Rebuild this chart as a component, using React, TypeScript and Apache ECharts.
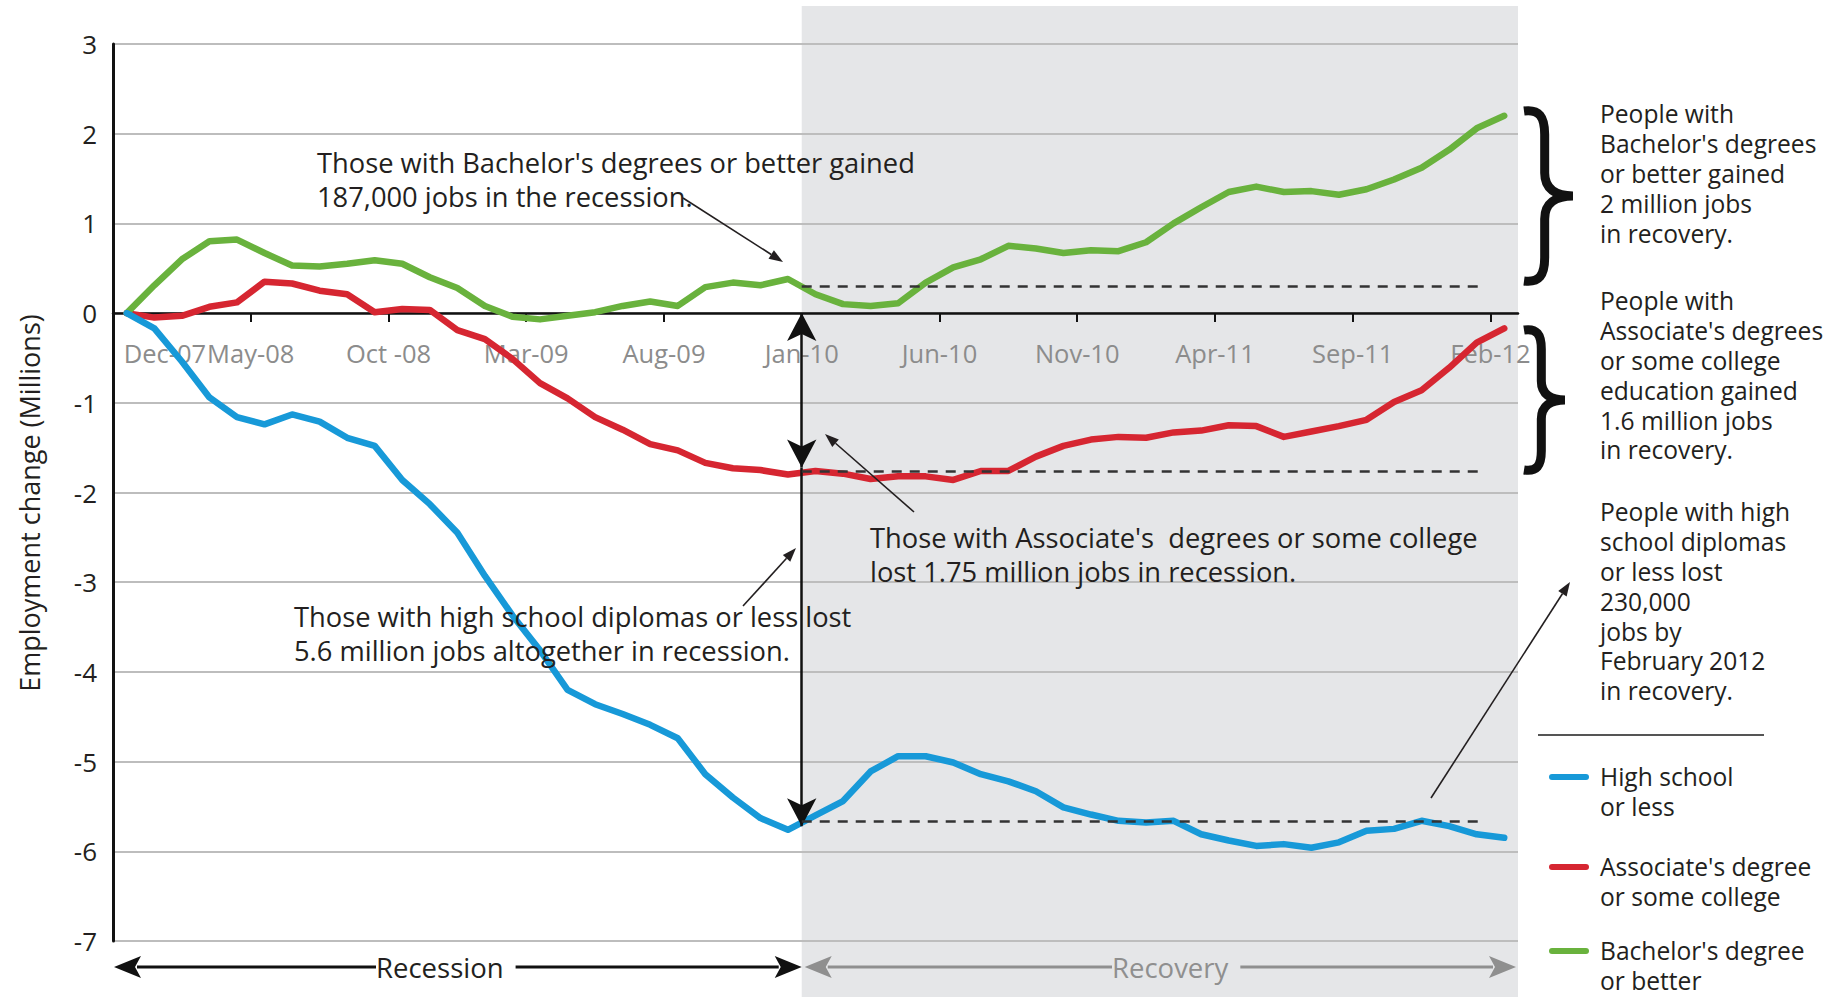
import React, { useEffect, useRef } from "react";
import * as echarts from "echarts";

// ---------- data ----------
const months = [
  "Dec-07", "Jan-08", "Feb-08", "Mar-08", "Apr-08", "May-08", "Jun-08", "Jul-08", "Aug-08", "Sep-08", "Oct -08", "Nov-08", "Dec-08",
  "Jan-09", "Feb-09", "Mar-09", "Apr-09", "May-09", "Jun-09", "Jul-09", "Aug-09", "Sep-09", "Oct-09", "Nov-09", "Dec-09",
  "Jan-10", "Feb-10", "Mar-10", "Apr-10", "May-10", "Jun-10", "Jul-10", "Aug-10", "Sep-10", "Oct-10", "Nov-10", "Dec-10",
  "Jan-11", "Feb-11", "Mar-11", "Apr-11", "May-11", "Jun-11", "Jul-11", "Aug-11", "Sep-11", "Oct-11", "Nov-11", "Dec-11",
  "Jan-12", "Feb-12",
];

const highSchool = [
  0, -0.17, -0.54, -0.94, -1.16, -1.24, -1.13, -1.21, -1.39, -1.48, -1.86, -2.13, -2.45,
  -2.93, -3.37, -3.76, -4.2, -4.36, -4.47, -4.59, -4.74, -5.14, -5.4, -5.63, -5.76,
  -5.6, -5.44, -5.11, -4.94, -4.94, -5.01, -5.14, -5.22, -5.33, -5.51, -5.59, -5.66,
  -5.68, -5.66, -5.81, -5.88, -5.94, -5.92, -5.96, -5.9, -5.77, -5.75, -5.66, -5.72,
  -5.81, -5.85,
];

const associate = [
  0, -0.05, -0.03, 0.07, 0.12, 0.35, 0.33, 0.25, 0.21, 0.01, 0.045, 0.035, -0.19,
  -0.29, -0.51, -0.78, -0.95, -1.16, -1.3, -1.46, -1.53, -1.67, -1.73, -1.75, -1.8,
  -1.76, -1.79, -1.85, -1.82, -1.82, -1.86, -1.76, -1.76, -1.6, -1.48, -1.41, -1.38,
  -1.39, -1.33, -1.31, -1.25, -1.26, -1.38, -1.32, -1.26, -1.19, -0.99, -0.86, -0.61,
  -0.33, -0.17,
];

const bachelor = [
  0, 0.31, 0.6, 0.8, 0.82, 0.67, 0.53, 0.52, 0.55, 0.59, 0.55, 0.4, 0.28,
  0.08, -0.04, -0.07, -0.03, 0.01, 0.08, 0.13, 0.08, 0.29, 0.34, 0.31, 0.38,
  0.21, 0.1, 0.08, 0.11, 0.34, 0.51, 0.6, 0.75, 0.72, 0.67, 0.7, 0.69,
  0.79, 1.0, 1.18, 1.35, 1.41, 1.35, 1.36, 1.32, 1.38, 1.49, 1.62, 1.82,
  2.06, 2.2,
];

const seriesNames = ["High school or less", "Associate's degree or some college", "Bachelor's degree or better"];
const legendLabels = ["High school\nor less", "Associate's degree\nor some college", "Bachelor's degree\nor better"];
const seriesColors = ["#1799d8", "#d62631", "#69b23d"];

// recovery start (Jan-10 boundary) and dashed baselines
const recoveryStart = 25;
const baselineEnd = 49.8;
const baselineLevels = [-5.67, -1.76, 0.3];
// vertical arrow levels at Jan-10
const arrowLevels = [0, -1.72, -5.72];

const xTickValues = [0, 5, 10, 15, 20, 25, 30, 35, 40, 45, 50];
const Y_MIN = -7;
const Y_MAX = 3;

// ---------- layout ----------
const W = 1844;
const H = 997;
const G = { left: 113, right: 326, top: 44, bottom: 56 };
const plotW = W - G.left - G.right;
const plotH = H - G.top - G.bottom;
const X_MAX = 51;
const xPix = (v: number) => G.left + (v / X_MAX) * plotW;
const zeroOffset = -(plotH * (0 - Y_MIN)) / (Y_MAX - Y_MIN);

const FONT = "'Open Sans', Lato, sans-serif";
const INK = "#231f20";
const GRAY_BG = "#e5e6e8";
const ARROW_GRAY = "#8f8f8f";

function pointer(x1: number, y1: number, x2: number, y2: number) {
  const dx = x2 - x1, dy = y2 - y1;
  const L = Math.hypot(dx, dy);
  const ux = dx / L, uy = dy / L;
  const hl = 14, hw = 5;
  const bx = x2 - ux * hl, by = y2 - uy * hl;
  const px = -uy, py = ux;
  return [
    { type: "line", z: 50, shape: { x1, y1, x2: bx, y2: by }, style: { stroke: INK, lineWidth: 1.6 } },
    {
      type: "polygon", z: 50,
      shape: { points: [[x2, y2], [bx + px * hw, by + py * hw], [bx - px * hw, by - py * hw]] },
      style: { fill: INK },
    },
  ];
}

function hArrow(x1: number, x2: number, y: number, color: string) {
  const hl = 27, hw = 11;
  return [
    { type: "line", z: 40, shape: { x1: x1 + hl - 4, y1: y, x2: x2 - hl + 4, y2: y }, style: { stroke: color, lineWidth: 3 } },
    { type: "polygon", z: 41, shape: { points: [[x1, y], [x1 + hl, y - hw], [x1 + hl - 6, y], [x1 + hl, y + hw]] }, style: { fill: color } },
    { type: "polygon", z: 41, shape: { points: [[x2, y], [x2 - hl, y - hw], [x2 - hl + 6, y], [x2 - hl, y + hw]] }, style: { fill: color } },
  ];
}

function braceD(w: number, h: number) {
  const m = w * 0.42;
  return [
    `M 2 3`,
    `C ${w * 0.32} 1 ${m} ${h * 0.05} ${m} ${h * 0.15}`,
    `L ${m} ${h * 0.37}`,
    `C ${m} ${h * 0.46} ${w * 0.62} ${h * 0.5} ${w - 3} ${h * 0.5}`,
    `C ${w * 0.62} ${h * 0.5} ${m} ${h * 0.54} ${m} ${h * 0.63}`,
    `L ${m} ${h * 0.85}`,
    `C ${m} ${h * 0.95} ${w * 0.32} ${h - 1} 2 ${h - 3}`,
  ].join(" ");
}

let registered = false;
function registerShapes() {
  if (registered) return;
  registered = true;
  echarts.graphic.registerShape("brace1", echarts.graphic.extendPath(braceD(54, 176), {}));
  echarts.graphic.registerShape("brace2", echarts.graphic.extendPath(braceD(46, 146), {}));
}

export default function App() {
  const ref = useRef<HTMLDivElement>(null);

  useEffect(() => {
    document.body.style.margin = "0";
    registerShapes();
    const chart = echarts.init(ref.current!, null, { renderer: "svg" });

    const noteStyle = (text: string, x: number, y: number, size: number, lh: number) => ({
      type: "text",
      z: 60,
      x,
      y,
      style: {
        text,
        fill: INK,
        fontSize: size,
        fontFamily: FONT,
        lineHeight: lh,
        verticalAlign: "top",
        align: "left",
      },
    });

    const jan10 = xPix(recoveryStart);

    const graphics: any[] = [
      // recovery shading
      { type: "rect", z: -100, shape: { x: jan10, y: 6, width: W - G.right - jan10, height: H - 6 }, style: { fill: GRAY_BG } },
      // bottom arrows
      ...hArrow(G.left + 1, jan10, 967, "#111"),
      ...hArrow(jan10 + 3, W - G.right - 2, 967, ARROW_GRAY),
      {
        type: "text", z: 45, x: 376, y: 967,
        style: { text: "Recession", fill: INK, fontSize: 27.5, fontFamily: FONT, verticalAlign: "middle", align: "left", backgroundColor: "#ffffff", padding: [0, 12, 0, 0] },
      },
      {
        type: "text", z: 45, x: 1112, y: 967,
        style: { text: "Recovery", fill: ARROW_GRAY, fontSize: 27.5, fontFamily: FONT, verticalAlign: "middle", align: "left", backgroundColor: GRAY_BG, padding: [0, 12, 0, 0] },
      },
      // annotations
      noteStyle("Those with Bachelor's degrees or better gained\n187,000 jobs in the recession.", 317, 145, 27.3, 34),
      noteStyle("Those with Associate's  degrees or some college\nlost 1.75 million jobs in recession.", 870, 521, 27.3, 33.5),
      noteStyle("Those with high school diplomas or less lost\n5.6 million jobs altogether in recession.", 294, 600, 27.3, 33.5),
      ...pointer(683, 198, 783, 262),
      ...pointer(914, 512, 825, 434),
      ...pointer(743, 606, 796, 548),
      ...pointer(1431, 798, 1570, 582),
      // braces
      { type: "brace1", z: 60, x: 1522, y: 108, style: { fill: "none", stroke: "#111", lineWidth: 9 } },
      { type: "brace2", z: 60, x: 1522, y: 327, style: { fill: "none", stroke: "#111", lineWidth: 9 } },
      // right notes
      noteStyle("People with\nBachelor's degrees\nor better gained\n2 million jobs\nin recovery.", 1600, 99, 24.6, 29.8),
      noteStyle("People with\nAssociate's degrees\nor some college\neducation gained\n1.6 million jobs\nin recovery.", 1600, 286, 24.6, 29.8),
      noteStyle("People with high\nschool diplomas\nor less lost\n230,000\njobs by\nFebruary 2012\nin recovery.", 1600, 497, 24.6, 29.8),
      // separator
      { type: "line", z: 60, shape: { x1: 1538, y1: 735, x2: 1764, y2: 735 }, style: { stroke: "#555", lineWidth: 2 } },
    ];

    // legend (custom layout)
    const legendTops = [762, 852, 936];
    legendLabels.forEach((lab, i) => {
      graphics.push({
        type: "line", z: 60,
        shape: { x1: 1552, y1: legendTops[i] + 15, x2: 1586, y2: legendTops[i] + 15 },
        style: { stroke: seriesColors[i], lineWidth: 6, lineCap: "round" },
      });
      graphics.push(noteStyle(lab, 1600, legendTops[i], 24.6, 29.8));
    });

    const dataOf = (arr: number[]) => arr.map((v, i) => [i + 0.5, v]);

    const baselineLine = (level: number) => [
      { coord: [recoveryStart, level], symbol: "none" },
      { coord: [baselineEnd, level], symbol: "none" },
    ];

    const option: any = {
      animation: false,
      grid: { left: G.left, right: G.right, top: G.top, bottom: G.bottom, containLabel: false },
      xAxis: {
        type: "value",
        min: 0,
        max: X_MAX,
        interval: 5,
        position: "bottom",
        offset: zeroOffset,
        axisLine: { show: true, onZero: false, lineStyle: { color: "#111", width: 2.5 } },
        axisTick: { show: true, length: 9, inside: false, lineStyle: { color: "#111", width: 2 }, customValues: xTickValues },
        axisLabel: {
          customValues: xTickValues,
          color: "#8c8c8c",
          fontSize: 25.5,
          fontFamily: FONT,
          margin: 27,
          formatter: (v: number) => {
            const i = Math.round(v);
            if (i === 0) return "{first|" + months[0] + "}";
            return months[i] ?? "";
          },
          rich: { first: { color: "#8c8c8c", fontSize: 25.5, fontFamily: FONT, padding: [0, 0, 0, 104] } },
        },
        splitLine: { show: false },
      },
      yAxis: {
        type: "value",
        min: Y_MIN,
        max: Y_MAX,
        interval: 1,
        name: "Employment change (Millions)",
        nameLocation: "middle",
        nameGap: 70,
        nameTextStyle: { fontSize: 27, color: INK, fontFamily: FONT, padding: [0, 21, 0, 0] },
        axisLine: { show: true, onZero: false, lineStyle: { color: "#111", width: 3 } },
        axisTick: { show: false },
        axisLabel: { color: INK, fontSize: 26, fontFamily: FONT, margin: 16 },
        splitLine: { show: true, lineStyle: { color: "#bdbdbd", width: 2 } },
      },
      series: [
        {
          name: seriesNames[0],
          type: "line",
          data: dataOf(highSchool),
          showSymbol: false,
          symbol: "none",
          z: 4,
          lineStyle: { color: seriesColors[0], width: 6.5, cap: "round", join: "round" },
          itemStyle: { color: seriesColors[0] },
          markLine: {
            silent: true,
            animation: false,
            label: { show: false },
            symbolSize: [22, 28],
            data: [
              [
                { coord: [recoveryStart, arrowLevels[0]], symbol: "arrow", lineStyle: { color: "#111", width: 2.5, type: "solid" } },
                { coord: [recoveryStart, arrowLevels[1]], symbol: "arrow" },
              ],
              [
                { coord: [recoveryStart, arrowLevels[1]], symbol: "none", lineStyle: { color: "#111", width: 2.5, type: "solid" } },
                { coord: [recoveryStart, arrowLevels[2]], symbol: "arrow" },
              ],
              [
                { ...baselineLine(baselineLevels[0])[0], lineStyle: { color: "#333", width: 2.5, type: [10, 8] } },
                baselineLine(baselineLevels[0])[1],
              ],
            ],
          },
        },
        {
          name: seriesNames[1],
          type: "line",
          data: dataOf(associate),
          showSymbol: false,
          symbol: "none",
          z: 3,
          lineStyle: { color: seriesColors[1], width: 6.5, cap: "round", join: "round" },
          itemStyle: { color: seriesColors[1] },
          markLine: {
            silent: true,
            animation: false,
            label: { show: false },
            symbol: "none",
            lineStyle: { color: "#333", width: 2.5, type: [10, 8] },
            data: [baselineLine(baselineLevels[1])],
          },
        },
        {
          name: seriesNames[2],
          type: "line",
          data: dataOf(bachelor),
          showSymbol: false,
          symbol: "none",
          z: 3,
          lineStyle: { color: seriesColors[2], width: 6.5, cap: "round", join: "round" },
          itemStyle: { color: seriesColors[2] },
          markLine: {
            silent: true,
            animation: false,
            label: { show: false },
            symbol: "none",
            lineStyle: { color: "#333", width: 2.5, type: [10, 8] },
            data: [baselineLine(baselineLevels[2])],
          },
        },
      ],
      graphic: { elements: graphics },
    };

    chart.setOption(option);
    return () => chart.dispose();
  }, []);

  return <div ref={ref} style={{ width: W, height: H }} />;
}
